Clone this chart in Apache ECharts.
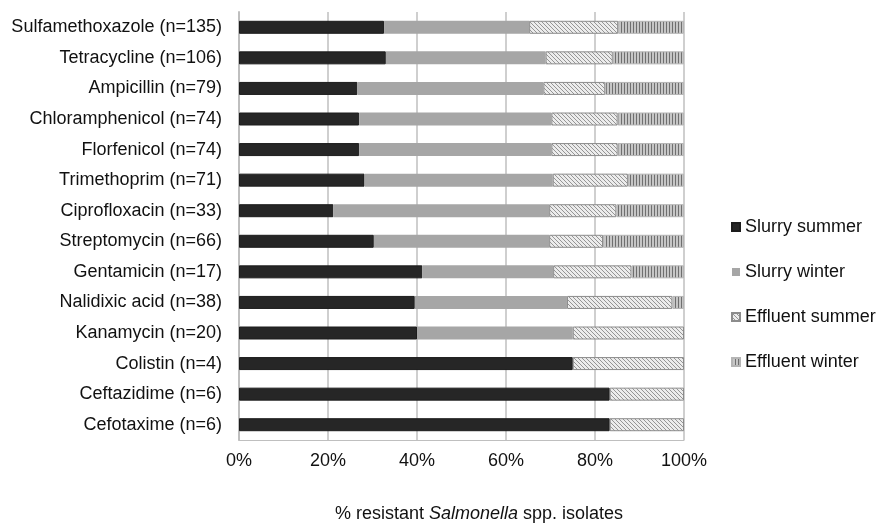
<!DOCTYPE html>
<html>
<head>
<meta charset="utf-8">
<script src="https://cdn.jsdelivr.net/npm/echarts@6/dist/echarts.min.js"></script>
<style>
html,body{margin:0;padding:0;background:#fff;}
#chart{width:877px;height:524px;}
</style>
</head>
<body>
<div id="chart"></div>
<script>
// ---- data (percent of resistant isolates, top to bottom) ----
const categories = [
  'Sulfamethoxazole (n=135)', 'Tetracycline (n=106)', 'Ampicillin (n=79)',
  'Chloramphenicol (n=74)', 'Florfenicol (n=74)', 'Trimethoprim (n=71)',
  'Ciprofloxacin (n=33)', 'Streptomycin (n=66)', 'Gentamicin (n=17)',
  'Nalidixic acid (n=38)', 'Kanamycin (n=20)', 'Colistin (n=4)',
  'Ceftazidime (n=6)', 'Cefotaxime (n=6)'
];
const seriesNames = ['Slurry summer', 'Slurry winter', 'Effluent summer', 'Effluent winter'];
const slurrySummer   = [32.6, 33.0, 26.6, 27.0, 27.0, 28.2, 21.2, 30.3, 41.2, 39.5, 40.0, 75.0, 83.3, 83.3];
const slurryWinter   = [32.6, 35.9, 41.8, 43.2, 43.2, 42.3, 48.5, 39.4, 29.4, 34.2, 35.0, 0, 0, 0];
const effluentSummer = [20.0, 15.1, 13.9, 14.9, 14.9, 16.9, 15.1, 12.1, 17.6, 23.7, 25.0, 25.0, 16.7, 16.7];
const effluentWinter = [14.8, 16.0, 17.7, 14.9, 14.9, 12.6, 15.2, 18.2, 11.8, 2.6, 0, 0, 0, 0];
const xTicks = [0, 20, 40, 60, 80, 100];

// ---- patterns ----
function hatchPattern() {
  const c = document.createElement('canvas');
  c.width = 4; c.height = 4;
  const g = c.getContext('2d');
  g.fillStyle = '#ececec'; g.fillRect(0, 0, 4, 4);
  g.fillStyle = '#959595';
  for (let i = 0; i < 4; i++) g.fillRect(i, i, 1, 1);
  return c;
}
function stripePattern() {
  const c = document.createElement('canvas');
  c.width = 3; c.height = 2;
  const g = c.getContext('2d');
  g.fillStyle = '#c6c6c6'; g.fillRect(0, 0, 3, 2);
  g.fillStyle = '#6f6f6f'; g.fillRect(0, 0, 1, 2);
  return c;
}

const FONT = '"Liberation Sans", Arial, sans-serif';
const TXT = '#111111';
const FS = 18;
const toData = arr => arr.map(v => (v === 0 ? '-' : v));

const chart = echarts.init(document.getElementById('chart'), null, { renderer: 'canvas' });

const styles = [
  { color: '#262626', borderColor: '#1c1c1c', borderWidth: 1 },
  { color: '#a6a6a6', borderWidth: 0 },
  { color: { image: hatchPattern(), repeat: 'repeat' }, borderColor: '#8c8c8c', borderWidth: 1 },
  { color: { image: stripePattern(), repeat: 'repeat' }, borderColor: '#b5b5b5', borderWidth: 1 }
];
const allData = [slurrySummer, slurryWinter, effluentSummer, effluentWinter];

chart.setOption({
  animation: false,
  textStyle: { fontFamily: FONT },
  grid: { left: 239, right: 193, top: 12, bottom: 84, containLabel: false },
  title: {
    text: '{a|% resistant }{b|Salmonella}{a| spp. isolates}',
    left: 479, top: 505, textAlign: 'center', padding: 0,
    textStyle: {
      rich: {
        a: { fontSize: FS, fontFamily: FONT, color: TXT, fontWeight: 'normal' },
        b: { fontSize: FS, fontFamily: FONT, color: TXT, fontStyle: 'italic', fontWeight: 'normal' }
      }
    }
  },
  legend: {
    orient: 'vertical', left: 731, top: 217, padding: 0,
    itemWidth: 8, itemHeight: 8, itemGap: 25,
    icon: 'rect',
    data: seriesNames,
    textStyle: { fontSize: FS, lineHeight: 20, color: TXT, fontFamily: FONT }
  },
  xAxis: {
    type: 'value', min: xTicks[0], max: xTicks[xTicks.length - 1], interval: 20,
    axisLine: { show: true, lineStyle: { color: '#bfbfbf', width: 1 } },
    axisTick: { show: false },
    splitLine: { show: true, lineStyle: { color: '#bfbfbf', width: 1.5 } },
    axisLabel: { formatter: '{value}%', fontSize: FS, color: TXT, margin: 12, fontFamily: FONT }
  },
  yAxis: {
    type: 'category', data: categories, inverse: true,
    axisLine: { show: true, lineStyle: { color: '#bfbfbf', width: 2 } },
    axisTick: { show: false },
    axisLabel: { fontSize: FS, color: TXT, margin: 17, fontFamily: FONT }
  },
  series: seriesNames.map((name, i) => ({
    name: name, type: 'bar', stack: 'total',
    barWidth: 13,
    data: toData(allData[i]),
    itemStyle: styles[i]
  }))
});
</script>
</body>
</html>
